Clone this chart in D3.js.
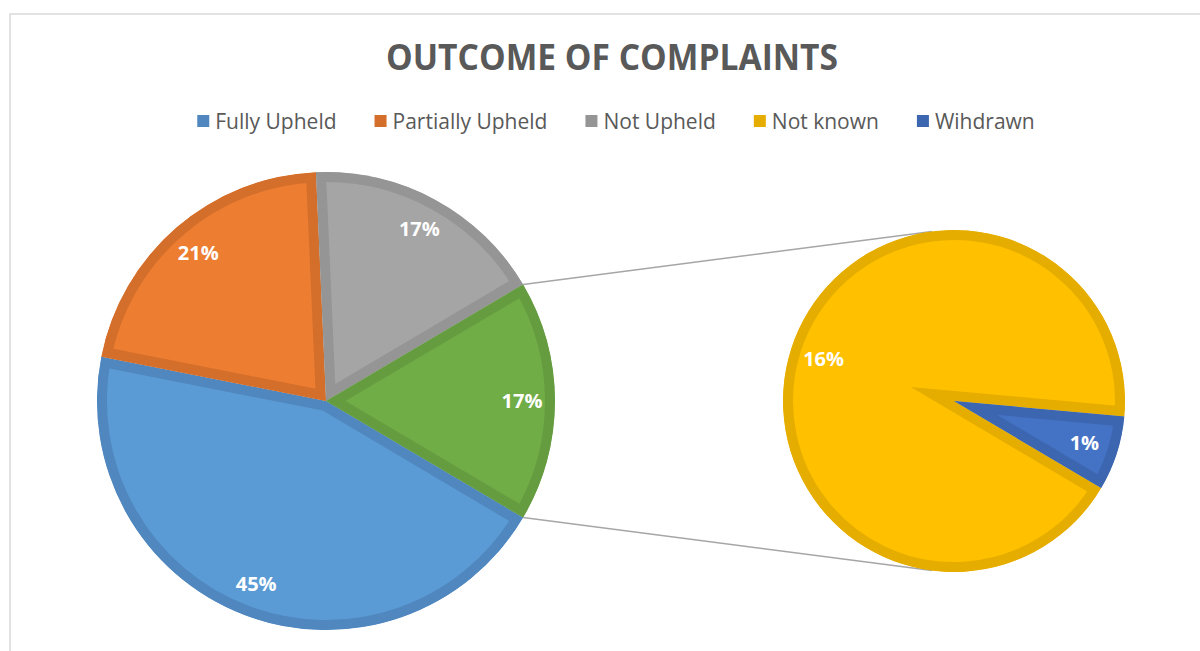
<!DOCTYPE html>
<html>
<head>
<meta charset="utf-8">
<script src="https://cdn.jsdelivr.net/npm/d3@7"></script>
<style>
  body { margin: 0; background: #fff; }
  text { font-family: "Open Sans", "Noto Sans", sans-serif; }
</style>
</head>
<body>
<div id="chart"></div>
<script>
// Chart data
var categories = ["Fully Upheld", "Partially Upheld", "Not Upheld", "Not known", "Wihdrawn"];
var shares = [44.6, 21.2, 17.2, 15.8, 1.2];   // percent of all complaints
var fillColors = ["#5B9BD5", "#ED7D31", "#A5A5A5", "#FFC000", "#4472C4"];
var edgeColors = ["#5087BF", "#D46F2B", "#959595", "#E5AD00", "#3D66B0"];
var secondaryCount = 2;  // last categories go into the small pie
var otherFill = "#70AD47", otherEdge = "#659C40";
var title = "OUTCOME OF COMPLAINTS";

var width = 1200, height = 651;
var svg = d3.select("#chart").append("svg")
  .attr("width", width).attr("height", height);

// chart area frame (only top & left visible, the rest runs off the page)
svg.append("rect")
  .attr("x", 10).attr("y", 14)
  .attr("width", 1220).attr("height", 660)
  .attr("fill", "#fff")
  .attr("stroke", "#D9D9D9").attr("stroke-width", 1.5);

// Title
svg.append("text")
  .attr("x", 612).attr("y", 70)
  .attr("text-anchor", "middle")
  .attr("font-size", 35).attr("font-weight", 700)
  .attr("fill", "#595959")
  .attr("textLength", 452).attr("lengthAdjust", "spacingAndGlyphs")
  .text(title);

// Build data for both pies
var rows = categories.map(function(c, i) {
  return { name: c, value: shares[i], fill: fillColors[i], edge: edgeColors[i] };
});
var nMain = rows.length - secondaryCount;
var secondaryRows = rows.slice(nMain);
var otherValue = d3.sum(secondaryRows, function(d) { return d.value; });
var mainRows = rows.slice(0, nMain).concat([{ name: "Other", value: otherValue, fill: otherFill, edge: otherEdge }]);
var total = d3.sum(mainRows, function(d) { return d.value; });

var otherAngle = otherValue / total * 2 * Math.PI;
var a0 = Math.PI / 2 + otherAngle / 2;   // "Other" centred on 3 o'clock

var main = { cx: 326, cy: 401, r: 229 };
var second = { cx: 954, cy: 401, r: 171 };
var pct = d3.format(".0%");

function drawPie(cfg, data, id, labelInset) {
  var pie = d3.pie().sort(null).value(function(d) { return d.value; })
    .startAngle(a0).endAngle(a0 + 2 * Math.PI);
  var arc = d3.arc().innerRadius(0).outerRadius(cfg.r);
  var arcs = pie(data);
  var g = svg.append("g").attr("transform", "translate(" + cfg.cx + "," + cfg.cy + ")");

  var defs = svg.append("defs");
  arcs.forEach(function(a, i) {
    defs.append("clipPath").attr("id", id + "-clip-" + i)
      .append("path").attr("d", arc(a));
  });

  g.selectAll("path.slice")
    .data(arcs)
    .enter()
    .append("path")
    .attr("class", "slice")
    .attr("d", arc)
    .attr("fill", function(d) { return d.data.fill; })
    .attr("stroke", function(d) { return d.data.edge; })
    .attr("stroke-width", 20)
    .attr("stroke-linejoin", "miter")
    .attr("stroke-miterlimit", 20)
    .attr("clip-path", function(d, i) { return "url(#" + id + "-clip-" + i + ")"; });

  var lr = cfg.r - labelInset;
  g.selectAll("text.lbl")
    .data(arcs)
    .enter()
    .append("text")
    .attr("class", "lbl")
    .attr("x", function(d) { return lr * Math.sin((d.startAngle + d.endAngle) / 2); })
    .attr("y", function(d) { return -lr * Math.cos((d.startAngle + d.endAngle) / 2); })
    .attr("text-anchor", "middle")
    .attr("dy", "0.36em")
    .attr("font-size", 20).attr("font-weight", 700)
    .attr("fill", "#fff")
    .text(function(d) { return pct(d.data.value / 100); });

  return arcs;
}

// Connector lines: from edges of "Other" slice, tangent to the small pie
function tangentPoint(px, py, c, side) {
  var dx = c.cx - px, dy = c.cy - py;
  var d = Math.sqrt(dx * dx + dy * dy);
  var base = Math.atan2(dy, dx);
  var off = Math.asin(c.r / d);
  var ang = base + side * off;
  var len = Math.sqrt(d * d - c.r * c.r);
  return [px + len * Math.cos(ang), py + len * Math.sin(ang)];
}

var edgeAngles = [a0 - otherAngle, a0];   // top edge, bottom edge of "Other"
edgeAngles.forEach(function(a, i) {
  var px = main.cx + main.r * Math.sin(a);
  var py = main.cy - main.r * Math.cos(a);
  var t = tangentPoint(px, py, second, i === 0 ? -1 : 1);
  svg.append("line")
    .attr("x1", px).attr("y1", py)
    .attr("x2", t[0]).attr("y2", t[1])
    .attr("stroke", "#A6A6A6").attr("stroke-width", 1.5);
});

drawPie(main, mainRows, "main", 33);
drawPie(second, secondaryRows, "sec", 34);

// Legend
var legend = svg.append("g");
var items = legend.selectAll("g.item")
  .data(rows)
  .enter()
  .append("g")
  .attr("class", "item");

items.append("rect")
  .attr("width", 12).attr("height", 12)
  .attr("y", 115)
  .attr("fill", function(d) { return d.edge; });

items.append("text")
  .attr("x", 18).attr("y", 121)
  .attr("dy", "0.36em")
  .attr("font-size", 21)
  .attr("fill", "#595959")
  .text(function(d) { return d.name; });

var gap = 38, xpos = 0, positions = [];
items.each(function() {
  var w = d3.select(this).select("text").node().getComputedTextLength();
  positions.push(xpos);
  xpos += 18 + w + gap;
});
var legendWidth = xpos - gap;
var startX = 616 - legendWidth / 2;
items.attr("transform", function(d, i) { return "translate(" + (startX + positions[i]) + ",0)"; });
</script>
</body>
</html>
